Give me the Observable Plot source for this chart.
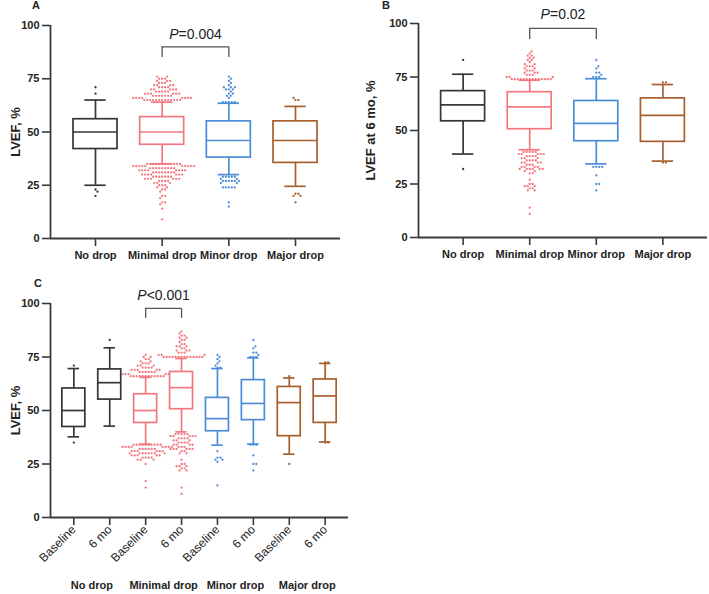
<!DOCTYPE html>
<html><head><meta charset="utf-8">
<script src="https://cdn.jsdelivr.net/npm/d3@7"></script>
<script src="https://cdn.jsdelivr.net/npm/@observablehq/plot@0.6"></script>
<style>
body{margin:0;background:#fff;}
#wrap{position:relative;width:709px;height:594px;overflow:hidden;background:#fff;font-family:"Liberation Sans",Arial,sans-serif;}
.panel{position:absolute;}
.tag{position:absolute;font:bold 11px "Liberation Sans",Arial,sans-serif;color:#222;line-height:1;}
#wrap svg g[aria-label$="tick"] path{stroke:#3a3a3a;stroke-width:1.6;}
</style></head><body>
<div id="wrap">
  <div class="tag" style="left:32px;top:0px">A</div>
  <div class="tag" style="left:382px;top:0px">B</div>
  <div class="tag" style="left:34px;top:278px">C</div>
</div>
<script>
// ---------- shared categories ----------
const groups = ["No drop", "Minimal drop", "Minor drop", "Major drop"];
const timepoints = ["Baseline", "6 mo"];
const groupColors = ["#363636", "#F2777E", "#4A8ED8", "#A55F2D"];
const yTicks = [0, 25, 50, 75, 100];

// ---------- Panel A: LVEF (baseline) by group ----------
// whisker low, Q1, median, Q3, whisker high
const lowA  = [25, 35, 30, 24.5];
const q1A   = [42, 44, 38, 35.5];
const medA  = [50, 50, 46, 46];
const q3A   = [56, 57, 55, 55];
const highA = [65, 64, 63.5, 62];
// outliers as [value, count]
const outNoDropA = [[71,1],[68,1],[23,1],[22,1],[20,1]];
const outMinimalA = [[65,13],[66,8],[67,7],[68,6],[69,5],[70,5],[71,4],[72,4],[73,3],[74,3],[75,3],[76,2],
  [35,12],[34,10],[33,9],[32,8],[31,8],[30,7],[29,7],[28,6],[27,4],[26,3],[25,3],[24,2],[23,2],[22,1],[20,2],[19,1],[17,2],[16,1],[14,1],[9,1]];
const outMinorA = [[64,5],[66,1],[67,2],[68,2],[69,1],[70,3],[71,3],[72,1],[73,1],[74,1],[75,1],[76,1],
  [29,5],[28,2],[27,6],[26,2],[24,5],[17,1],[15,1]];
const outMajorA = [[66,1],[65,2],[21,2],[20,2],[17,1]];
const pA = {label: "P=0.004", from: "Minimal drop", to: "Minor drop"};

// ---------- Panel B: LVEF at 6 mo by group ----------
const lowB  = [39, 41, 34.4, 35.7];
const q1B   = [54.3, 50.6, 45, 44.7];
const medB  = [62, 61, 53.3, 57.1];
const q3B   = [68.4, 67.9, 63.8, 65];
const highB = [76.3, 73.5, 74.2, 71.5];
const outNoDropB = [[83,1],[32,1]];
const outMinimalB = [[74,14],[75,3],[76,3],[77,3],[78,3],[79,2],[80,3],[81,2],[82,1],[83,2],[84,2],[85,2],[86,1],[87,1],
  [40,5],[39,5],[38,4],[37,3],[36,4],[35,4],[34,3],[33,4],[32,6],[31,2],[30,2],[27,1],[25,2],[24,3],[23,2],[22,2],[14,1],[11,1]];
const outMinorB = [[75,3],[76,1],[77,2],[79,1],[80,1],[83,1],[33,4],[29,1],[25,2],[22,1]];
const outMajorB = [[72.5,2],[35,2]];
const pB = {label: "P=0.02", from: "Minimal drop", to: "Minor drop"};

// ---------- Panel C: baseline vs 6 mo within group ----------
// order: No drop (Baseline, 6 mo), Minimal drop (...), Minor drop (...), Major drop (...)
const lowC  = [37.7, 42.7, 34.3, 40, 33.8, 34.3, 29.6, 35.3];
const q1C   = [42.3, 55.1, 44.2, 50.6, 40.3, 45.5, 38, 44.2];
const medC  = [50, 63, 50, 60.7, 46.2, 53.3, 53.7, 56.8];
const q3C   = [60.3, 69.2, 57.6, 68, 55.9, 64.2, 61, 64.5];
const highC = [69.6, 79.3, 65.5, 74.3, 69.6, 74.6, 65.2, 72];
const outNoDropBaseC = [[71,1],[35,1]];
const outNoDrop6C = [[83,1]];
const outMinimalBaseC = [[66,12],[67,8],[68,6],[69,5],[70,4],[71,3],[72,3],[73,2],[74,2],[75,2],[76,1],
  [34,10],[33,8],[32,6],[31,6],[30,8],[29,5],[28,4],[27,3],[25,1],[17,1],[14,1]];
const outMinimal6C = [[75,14],[76,3],[77,3],[78,3],[79,2],[80,3],[81,2],[82,1],[83,2],[84,2],[85,2],[86,1],[87,1],
  [39,5],[38,5],[37,4],[36,3],[35,4],[34,4],[33,3],[32,6],[31,2],[30,2],[27,1],[25,2],[24,3],[23,2],[22,2],[14,1],[11,1]];
const outMinorBaseC = [[70,2],[71,1],[72,1],[73,1],[74,1],[75,1],[76,1],[31,1],[28,2],[27,2],[26,1],[15,1]];
const outMinor6C = [[75,3],[76,1],[77,2],[79,1],[80,1],[83,1],[34,3],[29,1],[25,2],[22,1]];
const outMajorBaseC = [[66,1],[25,1]];
const outMajor6C = [[72.5,2],[35,2]];
const pC = {label: "P<0.001", from: 2, to: 3};

// ---------- helpers ----------
function swarm(values, pxX, pxY, diam) {
  const placed = [];
  return values.map(v => {
    const y = v * pxY;
    let off = 0;
    for (let k = 0; k < 600; k++) {
      const c = (k % 2 ? 1 : -1) * Math.ceil(k / 2) * 0.5;
      if (placed.every(p => (p.x - c) ** 2 + (p.y - y) ** 2 >= diam * diam)) { off = c; break; }
    }
    placed.push({x: off, y});
    return {v, off: off / pxX};
  });
}

function drawPanel(cfg) {
  const {n, labelOf, colorOf, low, q1, med, q3, high, outliers, width, height, margin, xPad,
         boxHalf, capHalf, yLabel, yLabelDx, pval, bar, leg, textY, rotate, extra} = cfg;
  const x0 = -xPad, x1 = n - 1 + xPad;
  const frameW = width - margin.left - margin.right;
  const frameH = height - margin.top - margin.bottom;
  const pxX = frameW / (x1 - x0), pxY = frameH / 100;
  const rows = d3.range(n).map(i => ({i, color: colorOf(i), lo: low[i], q1: q1[i], med: med[i], q3: q3[i], hi: high[i]}));
  const dots = [];
  rows.forEach(r => {
    const vals = outliers[r.i].flatMap(([v, c]) => Array(c).fill(v))
      .sort((a, b) => Math.abs(a - r.med) - Math.abs(b - r.med));
    for (const d of swarm(vals, pxX, pxY, 2.8)) dots.push({x: r.i + d.off, v: d.v, color: r.color});
  });
  const sw = 1.7;
  const marks = [
    Plot.ruleY([0], {stroke: "#3a3a3a", strokeWidth: 1.8}),
    Plot.ruleX([x0], {stroke: "#3a3a3a", strokeWidth: 1.8}),
    Plot.dot(dots, {x: "x", y: "v", r: 1.15, fill: "color", stroke: null}),
    Plot.ruleX(rows, {x: "i", y1: "lo", y2: "q1", stroke: "color", strokeWidth: sw}),
    Plot.ruleX(rows, {x: "i", y1: "q3", y2: "hi", stroke: "color", strokeWidth: sw}),
    Plot.ruleY(rows, {x1: d => d.i - capHalf, x2: d => d.i + capHalf, y: "lo", stroke: "color", strokeWidth: sw}),
    Plot.ruleY(rows, {x1: d => d.i - capHalf, x2: d => d.i + capHalf, y: "hi", stroke: "color", strokeWidth: sw}),
    Plot.rect(rows, {x1: d => d.i - boxHalf, x2: d => d.i + boxHalf, y1: "q1", y2: "q3", fill: "white", stroke: "color", strokeWidth: sw}),
    Plot.ruleY(rows, {x1: d => d.i - boxHalf, x2: d => d.i + boxHalf, y: "med", stroke: "color", strokeWidth: sw}),
    // significance bracket
    Plot.ruleY([pval], {x1: "a", x2: "b", y: () => bar, stroke: "#555", strokeWidth: 1.3}),
    Plot.ruleX([pval, pval], {x: (d, i) => i ? d.b : d.a, y1: () => leg, y2: () => bar, stroke: "#555", strokeWidth: 1.3}),
    Plot.text([pval], {x: d => (d.a + d.b) / 2, y: () => textY, text: "label", fontSize: 14, fontWeight: "normal", fill: "#222", className: "pval"}),
    Plot.text([yLabel], {frameAnchor: "left", textAnchor: "middle", lineAnchor: "middle", rotate: -90, dx: yLabelDx, fontSize: 13, fontWeight: "bold", fill: "#222"}),
    ...(extra || [])
  ];
  const svg = Plot.plot({
    width, height,
    marginTop: margin.top, marginRight: margin.right, marginBottom: margin.bottom, marginLeft: margin.left,
    x: {domain: [x0, x1], ticks: d3.range(n), tickFormat: labelOf, tickSize: 8, tickPadding: rotate ? 2 : 5, tickRotate: rotate || 0, label: null},
    y: {domain: [0, 100], ticks: yTicks, tickSize: 8, tickPadding: 3, label: null},
    style: {fontFamily: "Liberation Sans, Arial, sans-serif", fontSize: "11px", fontWeight: "bold", color: "#222", background: "transparent", overflow: "visible"},
    marks
  });
  d3.select(svg).selectAll("g.pval text").each(function () {
    const t = this.textContent, s = d3.select(this);
    s.text(null);
    s.append("tspan").attr("font-style", "italic").text(t[0]);
    s.append("tspan").text(t.slice(1));
  });
  return svg;
}

function place(svg, left, top) {
  const div = document.createElement("div");
  div.className = "panel";
  div.style.left = left + "px";
  div.style.top = top + "px";
  div.appendChild(svg);
  document.getElementById("wrap").appendChild(div);
  return svg;
}

// ---------- Panel A ----------
const idx = name => groups.indexOf(name);
place(drawPanel({
  n: 4, labelOf: i => groups[i], colorOf: i => groupColors[i],
  low: lowA, q1: q1A, med: medA, q3: q3A, high: highA,
  outliers: [outNoDropA, outMinimalA, outMinorA, outMajorA],
  width: 355, height: 280, margin: {top: 25, right: 15, bottom: 42, left: 50}, xPad: 0.675,
  boxHalf: 0.33, capHalf: 0.16, yLabel: "LVEF, %", yLabelDx: -35,
  pval: {label: pA.label, a: idx(pA.from), b: idx(pA.to)}, bar: 90, leg: 85, textY: 96
}), 0, 0);

// ---------- Panel B ----------
place(drawPanel({
  n: 4, labelOf: i => groups[i], colorOf: i => groupColors[i],
  low: lowB, q1: q1B, med: medB, q3: q3B, high: highB,
  outliers: [outNoDropB, outMinimalB, outMinorB, outMajorB],
  width: 354, height: 280, margin: {top: 23, right: 2, bottom: 43, left: 63}, xPad: 0.67,
  boxHalf: 0.33, capHalf: 0.16, yLabel: "LVEF at 6 mo, %", yLabelDx: -48,
  pval: {label: pB.label, a: idx(pB.from), b: idx(pB.to)}, bar: 97.7, leg: 92.5, textY: 104
}), 355, 0);

// ---------- Panel C ----------
const groupLabelMark = Plot.text(groups, {x: (d, i) => 2 * i + 0.5, frameAnchor: "bottom", lineAnchor: "middle", dy: 68, text: d => d, fontSize: 11, fontWeight: "bold", fill: "#222"});
const svgC = place(drawPanel({
  n: 8, labelOf: i => timepoints[i % 2], colorOf: i => groupColors[Math.floor(i / 2)],
  low: lowC, q1: q1C, med: medC, q3: q3C, high: highC,
  outliers: [outNoDropBaseC, outNoDrop6C, outMinimalBaseC, outMinimal6C, outMinorBaseC, outMinor6C, outMajorBaseC, outMajor6C],
  width: 360, height: 314, margin: {top: 23, right: 12, bottom: 77, left: 50}, xPad: 0.65,
  boxHalf: 0.32, capHalf: 0.16, yLabel: "LVEF, %", yLabelDx: -35,
  pval: {label: pC.label, a: pC.from, b: pC.to}, bar: 97.7, leg: 93, textY: 103.5,
  rotate: -45, extra: [groupLabelMark]
}), 0, 280);
d3.select(svgC).selectAll('g[aria-label="x-axis tick label"] text').attr("font-weight", "normal").attr("font-size", 12);
</script>
</body></html>
